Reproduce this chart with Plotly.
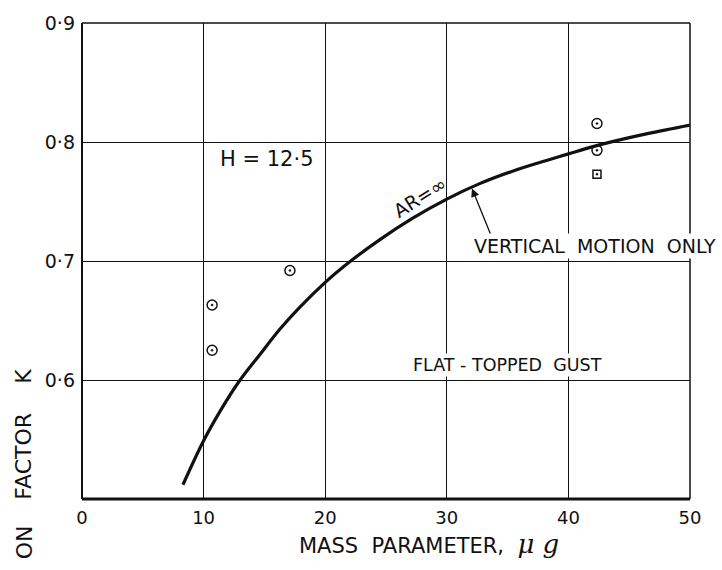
import plotly.graph_objects as go

# Theoretical curve, aspect ratio infinite (vertical motion only)
curve_mu = [8.3, 10, 11.4, 12.9, 14.6, 16.3, 17.9, 20, 21.6, 24.5, 27.2, 30,
            32.7, 35.4, 38.2, 40, 41.8, 43.7, 46.5, 50]
curve_k = [0.512, 0.549, 0.5745, 0.5985, 0.621, 0.643, 0.661, 0.682, 0.696, 0.718,
           0.736, 0.752, 0.765, 0.7755, 0.7845, 0.790, 0.7955, 0.8005, 0.807, 0.8142]

# Test points
circle_mu = [10.7, 10.7, 17.1, 42.35, 42.35]
circle_k = [0.663, 0.625, 0.692, 0.8155, 0.793]
square_mu = [42.35]
square_k = [0.773]

x_ticks = [0, 10, 20, 30, 40, 50]
x_ticktext = ["0", "10", "20", "30", "40", "50"]
y_ticks = [0.6, 0.7, 0.8, 0.9]
y_ticktext = ["0·6", "0·7", "0·8", "0·9"]

FONT = "DejaVu Sans"
INK = "#111111"

fig = go.Figure()
fig.add_trace(go.Scatter(x=curve_mu, y=curve_k, mode="lines",
                         line=dict(color=INK, width=3.2, shape="spline", smoothing=1.0),
                         showlegend=False, hoverinfo="skip"))
fig.add_trace(go.Scatter(x=circle_mu, y=circle_k, mode="markers",
                         marker=dict(symbol="circle-open-dot", size=10, color=INK,
                                     line=dict(width=1.5, color=INK)),
                         showlegend=False))
fig.add_trace(go.Scatter(x=square_mu, y=square_k, mode="markers",
                         marker=dict(symbol="square-open-dot", size=8, color=INK,
                                     line=dict(width=1.5, color=INK)),
                         showlegend=False))

# Frame with heavier bottom and left edges
frame = [
    dict(x0=0, x1=1, y0=0, y1=0, w=3),
    dict(x0=0, x1=0, y0=0, y1=1, w=2),
    dict(x0=0, x1=1, y0=1, y1=1, w=1.5),
    dict(x0=1, x1=1, y0=0, y1=1, w=1.5),
]
for f in frame:
    fig.add_shape(type="line", xref="paper", yref="paper",
                  x0=f["x0"], x1=f["x1"], y0=f["y0"], y1=f["y1"],
                  line=dict(color=INK, width=f["w"]), layer="between")

ann = []
ann.append(dict(x=15.2, y=0.786, text="H = 12·5", showarrow=False,
                font=dict(family=FONT, size=21, color=INK)))
ann.append(dict(x=27.8, y=0.7535, text="AR=∞", showarrow=False, textangle=-32,
                font=dict(family=FONT, size=19, color=INK)))
ann.append(dict(x=32.07, y=0.761, ax=33.7, ay=0.720, axref="x", ayref="y",
                text="", showarrow=True, arrowhead=2, arrowsize=1.3,
                arrowwidth=1.3, arrowcolor=INK, standoff=0))
ann.append(dict(x=42.2, y=0.7125, text="VERTICAL  MOTION  ONLY", showarrow=False,
                bgcolor="white", font=dict(family=FONT, size=19, color=INK)))
ann.append(dict(x=35.0, y=0.6126, text="FLAT - TOPPED  GUST", showarrow=False,
                bgcolor="white", font=dict(family=FONT, size=17.5, color=INK)))
ann.append(dict(x=28.5, y=-0.095, yref="paper", yanchor="middle", xanchor="center",
                text="MASS  PARAMETER,  <span style='font-family:DejaVu Serif;font-size:26px'><i>μ g</i></span>",
                showarrow=False, font=dict(family=FONT, size=21, color=INK)))
for txt, yy in [("K", 0.2588), ("FACTOR", 0.0911), ("ON", -0.0911)]:
    ann.append(dict(x=-0.0954, xref="paper", y=yy, yref="paper", text=txt,
                    xanchor="center", yanchor="middle",
                    showarrow=False, textangle=-90,
                    font=dict(family=FONT, size=22, color=INK)))

fig.update_layout(
    width=722, height=570,
    margin=dict(l=82, r=32, t=16, b=71),
    paper_bgcolor="white", plot_bgcolor="white",
    annotations=ann,
    xaxis=dict(range=[0, 50], tickvals=x_ticks, ticktext=x_ticktext,
               showgrid=True, gridcolor=INK, gridwidth=1, zeroline=False,
               showline=False, ticks="", ticklabelstandoff=6,
               tickfont=dict(family=FONT, size=18, color=INK)),
    yaxis=dict(range=[0.5, 0.9], tickvals=y_ticks, ticktext=y_ticktext,
               showgrid=True, gridcolor=INK, gridwidth=1, zeroline=False,
               showline=False, ticks="", ticklabelstandoff=6,
               tickfont=dict(family=FONT, size=19, color=INK)),
)

fig.write_html("out.html")
